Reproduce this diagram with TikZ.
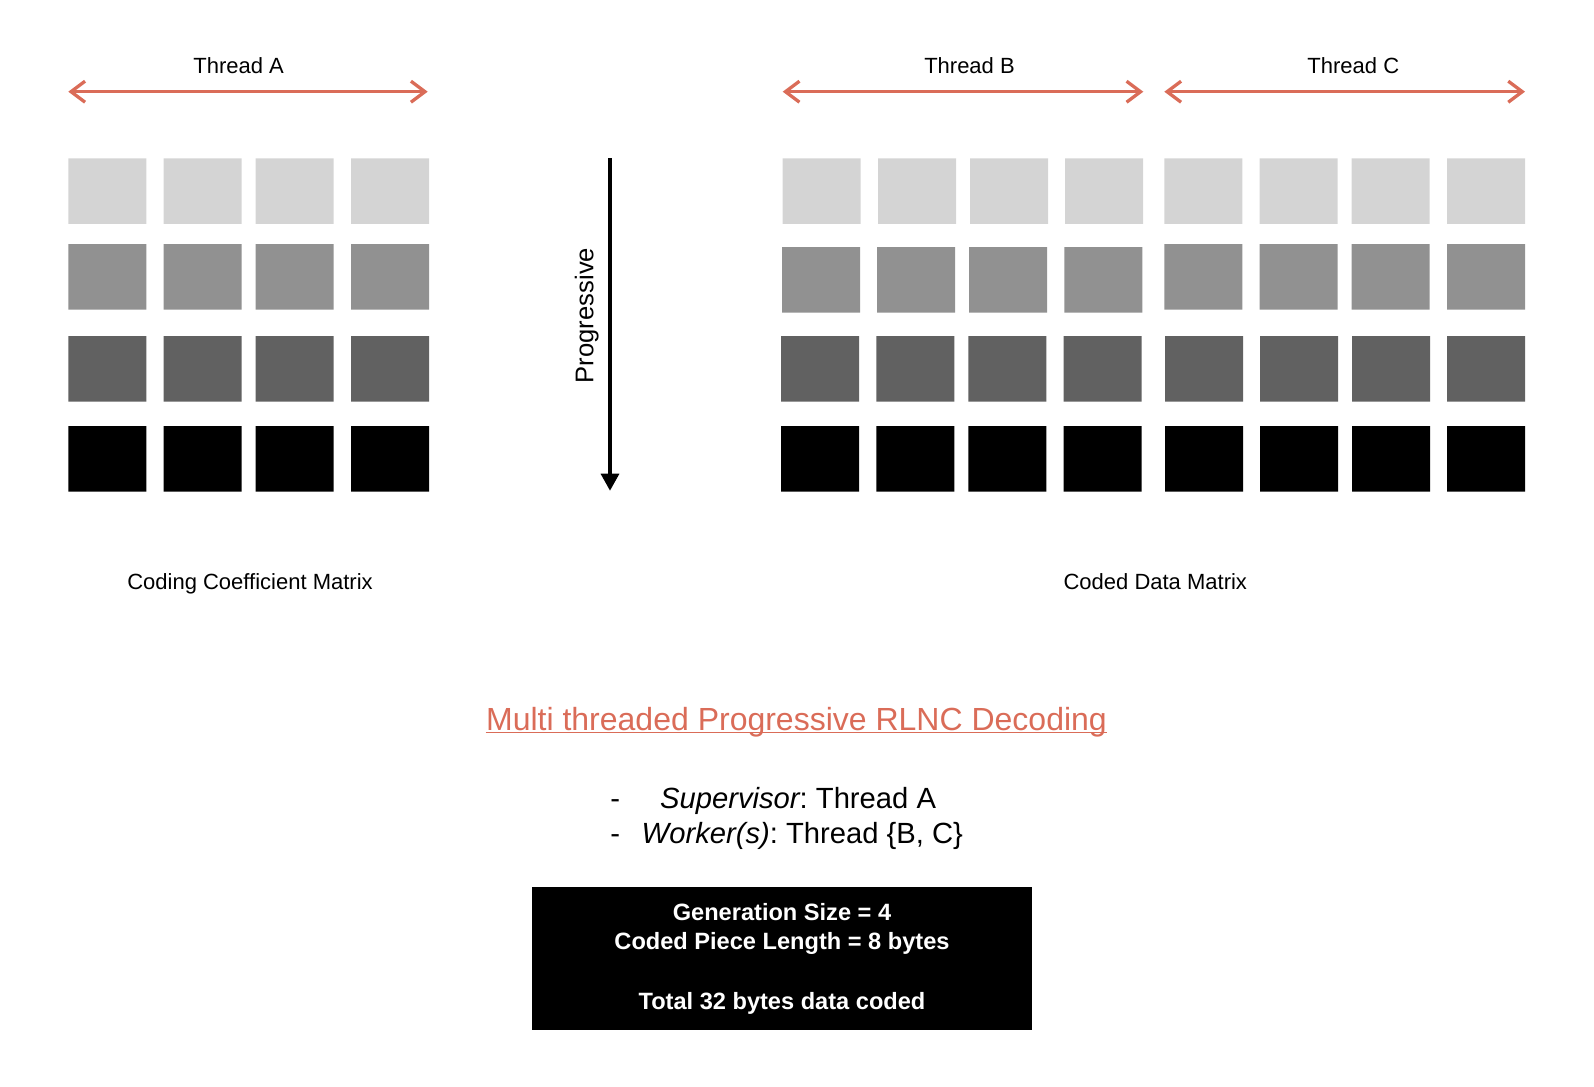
\documentclass[tikz,border=0pt]{standalone}
\usepackage{fontspec}
\setmainfont{Liberation Sans}
\frenchspacing
\usetikzlibrary{arrows.meta}
\definecolor{threadred}{RGB}{218,108,88}
\definecolor{cellone}{RGB}{212,212,212}
\definecolor{celltwo}{RGB}{145,145,145}
\definecolor{cellthree}{RGB}{97,97,97}

\begin{document}
\begin{tikzpicture}[x=0.5pt,y=-0.5pt,
  threadarrow/.style={threadred,line width=1.65pt,line cap=round,
    {Straight Barb[length=7pt,width=10.5pt]}-{Straight Barb[length=7pt,width=10.5pt]}},
  progarrow/.style={black,line width=1.6pt,-{Triangle[width=9pt,length=8.5pt]}},
  threadlabel/.style={inner sep=0pt,anchor=base,font=\fontsize{11pt}{13pt}\selectfont},
  titletext/.style={inner sep=0pt,anchor=base,text=threadred,font=\fontsize{16pt}{19pt}\selectfont},
  listtext/.style={inner sep=0pt,anchor=base west,font=\fontsize{14.6pt}{17pt}\selectfont},
  infobox/.style={fill=black,text=white,align=center,minimum width=249.7pt,minimum height=71.4pt,
    font=\fontsize{11.8pt}{14.7pt}\selectfont\bfseries}]
\useasboundingbox (0,0) rectangle (1594,1086);

\fill[cellone]
  (68.3,158.3) rectangle +(78,65.5)  (163.7,158.3) rectangle +(78,65.5)
  (255.7,158.3) rectangle +(78,65.5) (351,158.3) rectangle +(78,65.5)
  (782.7,158.3) rectangle +(78,65.5) (878,158.3) rectangle +(78,65.5)
  (970,158.3) rectangle +(78,65.5)   (1065,158.3) rectangle +(78,65.5)
  (1164.3,158.3) rectangle +(78,65.5) (1259.7,158.3) rectangle +(78,65.5)
  (1351.7,158.3) rectangle +(78,65.5) (1447,158.3) rectangle +(78,65.5);

\fill[celltwo]
  (68.3,244) rectangle +(78,65.5)  (163.7,244) rectangle +(78,65.5)
  (255.7,244) rectangle +(78,65.5) (351,244) rectangle +(78,65.5)
  (782,247) rectangle +(78,65.5)   (877,247) rectangle +(78,65.5)
  (969,247) rectangle +(78,65.5)   (1064.3,247) rectangle +(78,65.5)
  (1164.3,244) rectangle +(78,65.5) (1259.7,244) rectangle +(78,65.5)
  (1351.7,244) rectangle +(78,65.5) (1447,244) rectangle +(78,65.5);

\fill[cellthree]
  (68.3,336) rectangle +(78,65.5)  (163.7,336) rectangle +(78,65.5)
  (255.7,336) rectangle +(78,65.5) (351,336) rectangle +(78,65.5)
  (781,336) rectangle +(78,65.5)   (876.3,336) rectangle +(78,65.5)
  (968.3,336) rectangle +(78,65.5) (1063.7,336) rectangle +(78,65.5)
  (1165,336) rectangle +(78,65.5)  (1260,336) rectangle +(78,65.5)
  (1352,336) rectangle +(78,65.5)  (1447,336) rectangle +(78,65.5);

\fill[black]
  (68.3,426) rectangle +(78,65.5)  (163.7,426) rectangle +(78,65.5)
  (255.7,426) rectangle +(78,65.5) (351,426) rectangle +(78,65.5)
  (781,426) rectangle +(78,65.5)   (876.3,426) rectangle +(78,65.5)
  (968.3,426) rectangle +(78,65.5) (1063.7,426) rectangle +(78,65.5)
  (1165,426) rectangle +(78,65.5)  (1260,426) rectangle +(78,65.5)
  (1352,426) rectangle +(78,65.5)  (1447,426) rectangle +(78,65.5);

\path
  (68.3,91.7) coordinate(aleft)
  (427.7,91.7) coordinate(aright)
  (782.7,91.7) coordinate(bleft)
  (1143.3,91.7) coordinate(bright)
  (1164.3,91.7) coordinate(cleft)
  (1525,91.7) coordinate(cright)
  (610,158.3) coordinate(progtop)
  (610,490.7) coordinate(progbot);

\draw[threadarrow] (aleft) -- (aright);
\draw[threadarrow] (bleft) -- (bright);
\draw[threadarrow] (cleft) -- (cright);
\draw[progarrow] (progtop) -- (progbot);

\node[threadlabel] (threada) at (238.7,74) {Thread A};
\node[threadlabel] (threadb) at (969.5,73.3) {Thread B};
\node[threadlabel] (threadc) at (1353.3,73.3) {Thread C};
\node[threadlabel,rotate=90,font=\fontsize{12.8pt}{15pt}\selectfont] (prog) at (593.3,315.5) {Progressive};

\node[threadlabel] (coefflabel) at (250,589.3) {Coding Coefficient Matrix};
\node[threadlabel] (datalabel) at (1155.3,589) {Coded Data Matrix};

\node[titletext] (title) at (796.5,730.7) {Multi threaded Progressive RLNC Decoding};
\draw[threadred,line width=0.65pt] ([yshift=-0.9pt]title.base west) -- ([yshift=-0.9pt]title.base east);

\node[listtext] (supervisor) at (610,808.3) {-\hspace{20pt}{\itshape Supervisor}: Thread A};
\node[listtext] (workers) at (610,843.3) {-\hspace{10.8pt}{\itshape Worker(s)}: Thread \{B, C\}};

\node[infobox] (genbox) at (782,958.6) {Generation Size = 4\\Coded Piece Length = 8 bytes\\[15pt]Total 32 bytes data coded};
\end{tikzpicture}
\end{document}
